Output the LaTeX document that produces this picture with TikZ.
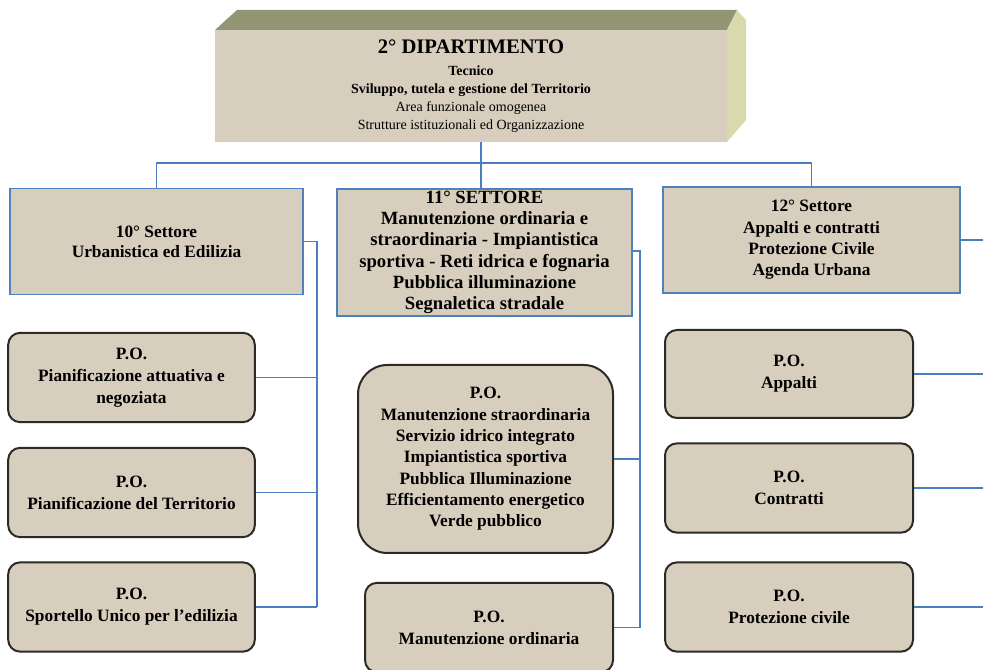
\documentclass[tikz,border=0pt]{standalone}
\usepackage{fontspec}
\setmainfont{Liberation Serif}
\definecolor{juta}{RGB}{216,206,189}
\definecolor{bordoblu}{RGB}{79,129,189}
\definecolor{lineablu}{RGB}{74,126,192}
\definecolor{bordopo}{RGB}{45,42,38}
\definecolor{olivatop}{RGB}{146,150,116}
\definecolor{latochiaro}{RGB}{216,218,172}

\begin{document}
\begin{tikzpicture}[x=0.75pt,y=0.75pt,yscale=-1,xscale=1,
  settore/.style={draw=bordoblu, line width=1.1pt, fill=juta, align=center, inner sep=0pt,
    font=\bfseries\fontsize{13}{16}\selectfont},
  po/.style={draw=bordopo, line width=1.5pt, fill=juta, rounded corners=9pt, align=center, inner sep=0pt,
    minimum width=185pt, minimum height=67pt, font=\bfseries\fontsize{13}{16.5}\selectfont},
  filo/.style={draw=lineablu, line width=1pt}]
%set diagram at 983 x 670
\useasboundingbox (0,0) rectangle (983,670);
\clip (0,0) rectangle (983,670);

%Shape: top face of the department box
\draw [draw opacity=0][fill=olivatop] (215,30) -- (237,10) -- (737,10) -- (727,30) -- cycle ;
%Shape: right face of the department box
\draw [draw opacity=0][fill=latochiaro] (727,30) -- (737,10) -- (746,20) -- (746,120) -- (727,142) -- cycle ;

% Text Node
\node (dip) at (471,86) [fill=juta, minimum width=384pt, minimum height=84pt, inner sep=0pt, align=center,
  font=\fontsize{10.5}{13.5}\selectfont]
  {{\bfseries\fontsize{15.5}{18}\selectfont 2° DIPARTIMENTO}\\[3pt]
   \textbf{Tecnico}\\
   \textbf{Sviluppo, tutela e gestione del Territorio}\\
   Area funzionale omogenea\\
   Strutture istituzionali ed Organizzazione};

% Text Node
\node (s10) at (156.5,241.5) [settore, minimum width=219.75pt, minimum height=79.5pt, font=\bfseries\fontsize{13}{15}\selectfont]
  {10° Settore\\Urbanistica ed Edilizia};
% Text Node
\node (s11) at (484.5,252.5) [settore, minimum width=221.25pt, minimum height=95pt, font=\bfseries\fontsize{14}{16}\selectfont]
  {11° SETTORE\\Manutenzione ordinaria e\\straordinaria - Impiantistica\\sportiva - Reti idrica e fognaria\\Pubblica illuminazione\\Segnaletica stradale};
% Text Node
\node (s12) at (811.5,240) [settore, minimum width=222.75pt, minimum height=79.5pt]
  {12° Settore\\Appalti e contratti\\Protezione Civile\\Agenda Urbana};

% Text Node
\node (p1) at (131.5,377.5) [po] {P.O.\\Pianificazione attuativa e\\negoziata};
% Text Node
\node (p2) at (131.5,492.5) [po] {P.O.\\Pianificazione del Territorio};
% Text Node
\node (p3) at (131.5,607) [po] {P.O.\\Sportello Unico per l’edilizia};

% Text Node
\node (pm1) at (485.5,459) [po, minimum width=191.25pt, minimum height=141pt, rounded corners=22pt, font=\bfseries\fontsize{13}{16}\selectfont]
  {P.O.\\Manutenzione straordinaria\\Servizio idrico integrato\\Impiantistica sportiva\\Pubblica Illuminazione\\Efficientamento energetico\\Verde pubblico};
% Text Node
\node (pm2) at (489,627.5) [po, minimum width=186pt] {P.O.\\Manutenzione ordinaria};

% Text Node
\node (pr1) at (789,374) [po, minimum width=186pt, minimum height=66pt] {P.O.\\Appalti};
% Text Node
\node (pr2) at (789,488) [po, minimum width=186pt] {P.O.\\Contratti};
% Text Node
\node (pr3) at (789,607) [po, minimum width=186pt] {P.O.\\Protezione civile};

%Straight Lines: department to sectors
\coordinate (hub) at (481,163);
\draw [filo] (hub |- dip.south) -- (hub) ;
\draw [filo] (s10.north) |- (hub) -| (s12.north) ;
\draw [filo] (hub) -- (hub |- s11.north) ;

%Straight Lines: 10 settore
\coordinate (b10) at (317,241.5);
\draw [filo] (s10.east) -- (b10) ;
\draw [filo, line width=2.2pt] (b10) -- (b10 |- p1.east) ;
\draw [filo] (b10) -- (b10 |- p3.east) ;
\draw [filo] (p1.east) -- (p1.east -| b10) ;
\draw [filo] (p2.east) -- (p2.east -| b10) ;
\draw [filo] (p3.east) -- (p3.east -| b10) ;

%Straight Lines: 11 settore
\coordinate (b11) at (640,251);
\draw [filo] (s11.east |- b11) -- (b11) -- (b11 |- pm2.east) ;
\draw [filo] (pm1.east) -- (pm1.east -| b11) ;
\draw [filo] (pm2.east) -- (pm2.east -| b11) ;

%Straight Lines: 12 settore
\coordinate (b12) at (987,240);
\draw [filo] (s12.east) -- (b12) -- (b12 |- pr3.east) ;
\draw [filo] (pr1.east) -- (pr1.east -| b12) ;
\draw [filo] (pr2.east) -- (pr2.east -| b12) ;
\draw [filo] (pr3.east) -- (pr3.east -| b12) ;

\end{tikzpicture}
\end{document}
